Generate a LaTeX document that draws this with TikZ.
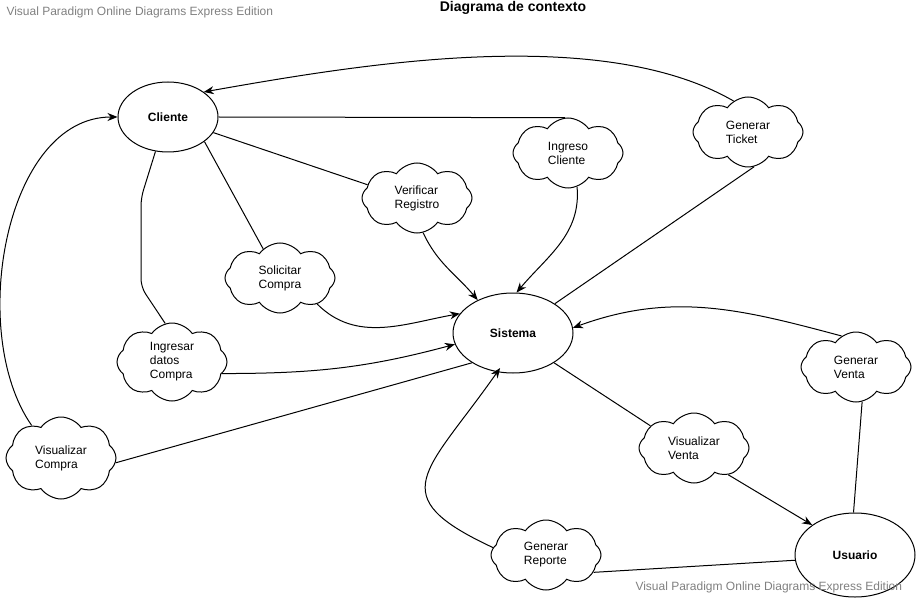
\documentclass[tikz,border=0pt]{standalone}
\usepackage{fontspec}
\setmainfont{Liberation Sans}
\usepackage{xcolor}
\usepackage{tikz}
\usetikzlibrary{shapes,arrows,arrows.meta,positioning}

\begin{document}
\begin{tikzpicture}[x=1bp,y=-1bp,
    entidad/.style={ellipse,draw,line width=1bp,fill=white,inner sep=0pt,font=\fontsize{12bp}{14bp}\selectfont\bfseries},
    proceso/.style={cloud,cloud puffs=8,cloud puff arc=110,cloud ignores aspect,draw,line width=1bp,fill=white,inner sep=0pt,minimum width=110bp,minimum height=70bp,align=left,font=\fontsize{12bp}{14bp}\selectfont},
    flujo/.style={line width=1bp},
    marca/.style={text=gray,font=\fontsize{12bp}{14bp}\selectfont},
    >={Stealth[length=10bp,width=8bp]}]
    \useasboundingbox (0,0) rectangle (917,598);

    \node[marca,anchor=west] (marca1) at (3,12) {Visual Paradigm Online Diagrams Express Edition};
    \node[font=\fontsize{14bp}{16bp}\selectfont\bfseries] (titulo) at (513,8) {Diagrama de contexto};

    \node[entidad,minimum width=100bp,minimum height=70bp] (cliente) at (168,117) {Cliente};
    \node[entidad,minimum width=120bp,minimum height=80bp] (sistema) at (513,333) {Sistema};
    \node[entidad,minimum width=120bp,minimum height=84bp] (usuario) at (855,555) {Usuario};

    \node[proceso] (ingreso) at (568,153) {Ingreso\\Cliente};
    \node[proceso] (ticket) at (748,132) {Generar\\Ticket};
    \node[proceso] (verificar) at (417,198) {Verificar\\Registro};
    \node[proceso] (solicitar) at (280,278) {Solicitar\\Compra};
    \node[proceso,minimum height=78bp] (ingresar) at (172,362) {Ingresar\\datos\\Compra};
    \node[proceso,minimum height=82bp] (viscompra) at (61,458) {Visualizar\\Compra};
    \node[proceso] (genventa) at (856,367) {Generar\\Venta};
    \node[proceso] (visventa) at (694,448) {Visualizar\\Venta};
    \node[proceso] (reporte) at (546,555) {Generar\\Reporte};

    \draw[flujo,->] (ticket.115) to[out=150,in=10,looseness=0.75] (cliente.35);
    \draw[flujo] (cliente.0) -- (ingreso.95);
    \draw[flujo] (cliente.-19) -- (verificar.165);
    \draw[flujo] (cliente.-34) -- (solicitar.120);
    \draw[flujo,rounded corners=8bp] (cliente.-110) -- (141,198) -- (141,287) -- (ingresar.100);
    \draw[flujo,->] (viscompra.132) to[out=125,in=180,looseness=0.9] (cliente.180);

    \draw[flujo,->] (ingreso.-75) to[out=-85,in=50] (sistema.85);
    \draw[flujo,->] (verificar.-80) to[out=-65,in=130] (sistema.137);
    \draw[flujo] (ticket.-80) -- (sistema.35);
    \draw[flujo,->] (solicitar.-35) to[out=-45,in=190] (sistema.160);
    \draw[flujo,->] (ingresar.-13) to[out=0,in=195] (sistema.191);
    \draw[flujo] (viscompra.-5) -- (sistema.216);
    \draw[flujo,->] (genventa.115) to[out=165,in=20] (sistema.5);
    \draw[flujo] (sistema.-36) -- (visventa.153);
    \draw[flujo,->,shorten >=-5bp] (reporte.172) to[out=155,in=-125,looseness=1.8] (sistema.-112);

    \draw[flujo,->] (visventa.-38) -- (usuario.145);
    \draw[flujo] (genventa.-80) -- (usuario.92);
    \draw[flujo] (reporte.-20) -- (usuario.185);

    \node[marca,anchor=west] (marca2) at (632,587) {Visual Paradigm Online Diagrams Express Edition};
\end{tikzpicture}
\end{document}
